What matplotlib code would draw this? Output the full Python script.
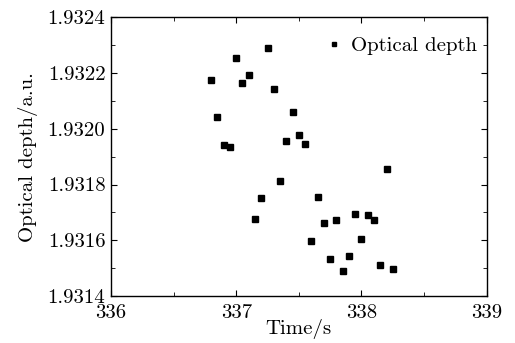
import matplotlib
matplotlib.use("Agg")
import matplotlib.pyplot as plt
from matplotlib.ticker import MultipleLocator, FormatStrFormatter

plt.rcParams['font.family'] = 'serif'
plt.rcParams['font.serif'] = ['cmr10']
plt.rcParams['mathtext.fontset'] = 'cm'
plt.rcParams['axes.formatter.use_mathtext'] = True

time_s = [336.80, 336.85, 336.90, 336.95, 337.00, 337.05, 337.10, 337.15, 337.20, 337.25,
          337.30, 337.35, 337.40, 337.45, 337.50, 337.55, 337.60, 337.65, 337.70, 337.75,
          337.80, 337.85, 337.90, 337.95, 338.00, 338.05, 338.10, 338.15, 338.20, 338.25]
optical_depth = [1.932174, 1.932043, 1.931941, 1.931934, 1.932255, 1.932166, 1.932192, 1.931677,
                 1.931752, 1.932291, 1.932143, 1.931812, 1.931956, 1.932060, 1.931979, 1.931947,
                 1.931596, 1.931757, 1.931663, 1.931534, 1.931674, 1.931488, 1.931545, 1.931694,
                 1.931603, 1.931692, 1.931674, 1.931513, 1.931854, 1.931496]

fig = plt.figure(figsize=(5.15, 3.43), dpi=100)
ax = fig.add_axes([111/515, (343-296)/343, (486.7-111)/515, (296-17.3)/343])
ax.plot(time_s, optical_depth, 's', color='black', markersize=5, label='Optical depth',
        linestyle='none')
ax.set_xlim(336, 339)
ax.set_ylim(1.9314, 1.9324)
ax.xaxis.set_major_locator(MultipleLocator(1))
ax.xaxis.set_minor_locator(MultipleLocator(0.5))
ax.yaxis.set_major_locator(MultipleLocator(0.0002))
ax.yaxis.set_minor_locator(MultipleLocator(0.0001))
ax.yaxis.set_major_formatter(FormatStrFormatter('%.4f'))
ax.xaxis.set_major_formatter(FormatStrFormatter('%d'))
ax.tick_params(which='both', direction='in', top=True, right=True, labelsize=15)
ax.tick_params(axis='x', which='major', pad=6)
ax.tick_params(axis='y', which='major', pad=4)
ax.tick_params(which='major', length=4)
ax.tick_params(which='minor', length=3)
for s in ax.spines.values():
    s.set_linewidth(1.0)
ax.set_xlabel('Time/s', fontsize=15, labelpad=-2)
ax.set_ylabel('Optical depth/a.u.', fontsize=15, labelpad=7)
ax.legend(loc='upper right', bbox_to_anchor=(1.0, 0.965), frameon=False, fontsize=15,
          markerscale=0.7, handlelength=0.8, handletextpad=0.45, borderaxespad=0.05)
fig.savefig('out.png', dpi=100)
